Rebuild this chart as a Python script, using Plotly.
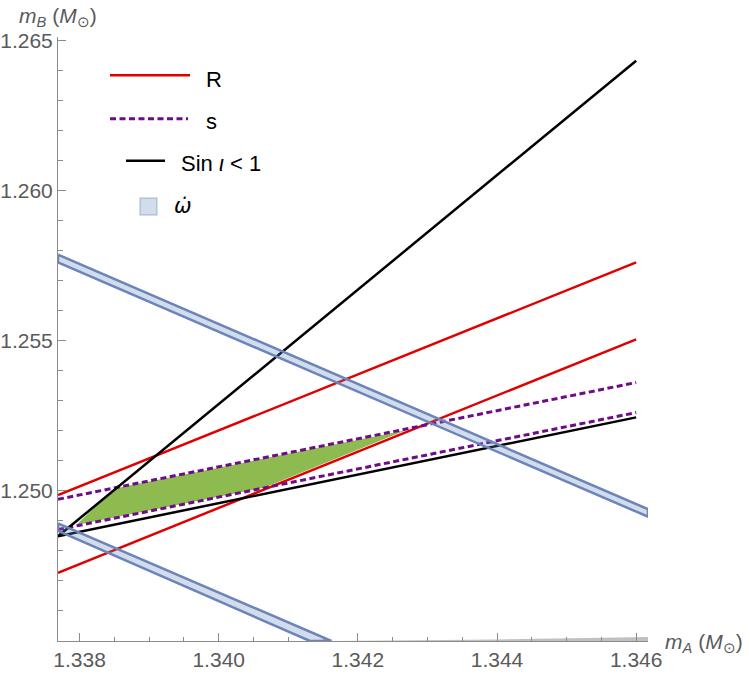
import plotly.graph_objects as go

# end points of the straight constraint lines (m_A at both ends)
ma_ends = [1.33769, 1.346]
r_upper = [1.24986, 1.25761]
r_lower = [1.24727, 1.25505]
s_upper = [1.24972, 1.25361]
s_lower = [1.24871, 1.25261]
sin_steep = [1.24849, 1.26433]
sin_shallow = [1.24849, 1.25245]

# omega-dot bands (closed outlines)
band1_ma = [1.33769, 1.34617, 1.34617, 1.33769, 1.33769]
band1_mb = [1.25787, 1.24939, 1.24914, 1.25761, 1.25787]
band2_ma = [1.33769, 1.34162, 1.34131, 1.33769, 1.33769]
band2_mb = [1.24892, 1.245, 1.245, 1.24867, 1.24892]

# faint grey sliver along the bottom axis
grey_ma = [1.34165, 1.34617, 1.34617, 1.3440]
grey_mb = [1.245, 1.245, 1.24513, 1.24505]

# allowed region (green)
green_ma = [1.33795, 1.33850, 1.34269, 1.34066]
green_mb = [1.24886, 1.25008, 1.25202, 1.25011]

x_ticks = [1.338, 1.340, 1.342, 1.344, 1.346]
x_labels = ["1.338", "1.340", "1.342", "1.344", "1.346"]
y_ticks = [1.250, 1.255, 1.260, 1.265]
y_labels = ["1.250", "1.255", "1.260", "1.265"]

RED = "#e00000"
PURPLE = "#6f0a88"
BLACK = "#000000"
BAND_EDGE = "#6b85ba"
BAND_FILL = "rgba(94,129,181,0.28)"
AXIS = "#8c8c8c"
LABEL = "#5a5a5a"
FONT = "Liberation Sans"

fig = go.Figure()

fig.add_trace(go.Scatter(x=green_ma, y=green_mb, fill="toself", mode="lines",
                         line=dict(width=0), fillcolor="#8dbb50", hoverinfo="skip"))

for ys in (r_upper, r_lower):
    fig.add_trace(go.Scatter(x=ma_ends, y=ys, mode="lines", line=dict(color=RED, width=2.5)))
for ys in (s_upper, s_lower):
    fig.add_trace(go.Scatter(x=ma_ends, y=ys, mode="lines",
                             line=dict(color=PURPLE, width=3, dash="6px,3.5px")))
for ys in (sin_steep, sin_shallow):
    fig.add_trace(go.Scatter(x=ma_ends, y=ys, mode="lines", line=dict(color=BLACK, width=2.5)))

for bx, by in ((band1_ma, band1_mb), (band2_ma, band2_mb)):
    fig.add_trace(go.Scatter(x=bx, y=by, fill="toself", mode="lines",
                             fillcolor=BAND_FILL, line=dict(color=BAND_EDGE, width=2.5)))

fig.add_trace(go.Scatter(x=grey_ma, y=grey_mb, fill="toself", mode="lines",
                         line=dict(width=0), fillcolor="rgba(150,150,150,0.6)"))

# plot area in window pixels: x 58..648, y 37..641
def fx(px):
    return (px - 58) / 590.0

def fy(py):
    return (641 - py) / 604.0

shapes = [
    dict(type="line", xref="paper", yref="paper", x0=fx(110), x1=fx(190), y0=fy(75.3), y1=fy(75.3),
         line=dict(color=RED, width=2.5)),
    dict(type="line", xref="paper", yref="paper", x0=fx(110), x1=fx(188), y0=fy(118.7), y1=fy(118.7),
         line=dict(color=PURPLE, width=3, dash="6px,3.5px")),
    dict(type="line", xref="paper", yref="paper", x0=fx(126), x1=fx(165), y0=fy(160.7), y1=fy(160.7),
         line=dict(color=BLACK, width=2.5)),
    dict(type="rect", xref="paper", yref="paper", x0=fx(140), x1=fx(157), y0=fy(215), y1=fy(198),
         fillcolor=BAND_FILL, line=dict(color="rgba(94,129,181,0.35)", width=1.5)),
]

annotations = [
    dict(text="R", x=fx(204), y=fy(79), xanchor="left", yanchor="middle"),
    dict(text="s", x=fx(204), y=fy(121), xanchor="left", yanchor="middle"),
    dict(text="Sin <i>ι</i> &lt; 1", x=fx(179), y=fy(163.5), xanchor="left", yanchor="middle"),
]
for a in annotations:
    a.update(xref="paper", yref="paper", showarrow=False, font=dict(family=FONT, size=22, color="black"))

# omega-dot: DejaVu handles the combining dot better
annotations.append(dict(text="<i>ω̇</i>", xref="paper", yref="paper", x=fx(172), y=fy(206),
                        xanchor="left", yanchor="middle", showarrow=False,
                        font=dict(family="DejaVu Sans", size=21, color="black")))

# axis titles
annotations.append(dict(text="<i>m</i><sub><i>B</i></sub> (<i>M</i><sub>⊙</sub>)", xref="paper", yref="paper",
                        x=fx(58), y=fy(17), xanchor="center", yanchor="middle", showarrow=False,
                        font=dict(family=FONT, size=21, color=LABEL)))
annotations.append(dict(text="<i>m</i><sub><i>A</i></sub> (<i>M</i><sub>⊙</sub>)", xref="paper", yref="paper",
                        x=fx(663), y=fy(643), xanchor="left", yanchor="middle", showarrow=False,
                        font=dict(family=FONT, size=21, color=LABEL)))

fig.update_layout(
    width=750, height=677,
    margin=dict(l=58, r=102, t=37, b=36),
    plot_bgcolor="white", paper_bgcolor="white",
    showlegend=False,
    shapes=shapes,
    annotations=annotations,
    xaxis=dict(range=[1.33769, 1.34617], tickvals=x_ticks, ticktext=x_labels, automargin=False,
               ticks="inside", ticklen=8, tickcolor=AXIS, showline=True, linecolor=AXIS,
               showgrid=False, zeroline=False,
               tickfont=dict(family=FONT, size=21, color=LABEL),
               minor=dict(tick0=1.338, dtick=0.0005, ticks="inside", ticklen=4.5, tickcolor=AXIS, showgrid=False)),
    yaxis=dict(range=[1.245, 1.26512], tickvals=y_ticks, ticktext=y_labels, automargin=False,
               ticks="inside", ticklen=8, tickcolor=AXIS, showline=True, linecolor=AXIS,
               showgrid=False, zeroline=False,
               tickfont=dict(family=FONT, size=21, color=LABEL),
               minor=dict(tick0=1.245, dtick=0.001, ticks="inside", ticklen=4.5, tickcolor=AXIS, showgrid=False)),
)

# drop the browser's default 8px body margin so the figure sits at (0, 0)
fig.write_html("out.html", config={"displayModeBar": False},
               post_script="document.body.style.margin='0';")
